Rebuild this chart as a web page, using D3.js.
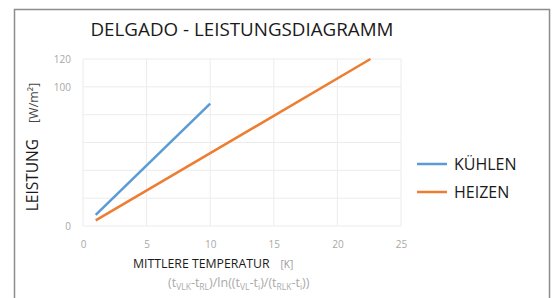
<!DOCTYPE html>
<html>
<head>
<meta charset="utf-8">
<script src="https://cdn.jsdelivr.net/npm/d3@7"></script>
<style>
  body { margin: 0; background: #fff; }
  text { font-family: "Open Sans", "Noto Sans", sans-serif; }
</style>
</head>
<body>
<div id="chart"></div>
<script>
// values
var seriesNames = ["KÜHLEN", "HEIZEN"];
var kuehlenX = [1, 10];
var kuehlenY = [8, 88];
var heizenX = [1, 22.6];
var heizenY = [4, 120];
var xTicks = [0, 5, 10, 15, 20, 25];
var yTicks = [0, 100, 120];
var yGrid = [0, 20, 40, 60, 80, 100, 120];
var colors = ["#5b9bd5", "#ed7d31"];

var width = 558, height = 298;

var svg = d3.select("#chart").append("svg")
    .attr("width", width)
    .attr("height", height);

// outer frame (bottom edge runs off the picture)
svg.append("rect")
    .attr("x", 14.5).attr("y", 9.5)
    .attr("width", 535).attr("height", 300)
    .attr("fill", "none")
    .attr("stroke", "#8c8c8c")
    .attr("stroke-width", 1.5);

var x = d3.scaleLinear().domain([0, 25]).range([83, 401]);
var y = d3.scaleLinear().domain([0, 120]).range([226, 59]);

// grid
var grid = svg.append("g");
grid.selectAll("line.v").data(xTicks).enter().append("line")
    .attr("x1", d => x(d)).attr("x2", d => x(d))
    .attr("y1", y(120)).attr("y2", y(0))
    .attr("stroke", "#ececec");
grid.selectAll("line.h").data(yGrid).enter().append("line")
    .attr("x1", x(0)).attr("x2", x(25))
    .attr("y1", d => y(d)).attr("y2", d => y(d))
    .attr("stroke", "#ececec");

// axes
var bottomAxis = d3.axisBottom(x).tickValues(xTicks).tickSize(0).tickPadding(15);
var leftAxis = d3.axisLeft(y).tickValues(yTicks).tickSize(0).tickPadding(12);

var gx = svg.append("g")
    .attr("transform", "translate(0," + y(0) + ")")
    .call(bottomAxis);
var gy = svg.append("g")
    .attr("transform", "translate(" + x(0) + ",0)")
    .call(leftAxis);
[gx, gy].forEach(function(g) {
  g.select(".domain").remove();
  g.selectAll("text")
    .attr("fill", "#a8a8a8")
    .style("font-size", "10px")
    .style("font-family", "'Open Sans', sans-serif");
});

// lines
var data = [
  kuehlenX.map((v, i) => ({x: v, y: kuehlenY[i]})),
  heizenX.map((v, i) => ({x: v, y: heizenY[i]}))
];
var line = d3.line().x(d => x(d.x)).y(d => y(d.y));
svg.selectAll("path.series").data(data).enter().append("path")
    .attr("class", "series")
    .attr("d", line)
    .attr("fill", "none")
    .attr("stroke", (d, i) => colors[i])
    .attr("stroke-width", 2.5);

// title
svg.append("text")
    .attr("x", 242).attr("y", 36)
    .attr("text-anchor", "middle")
    .attr("fill", "#1a1a1a")
    .style("font-size", "18.8px")
    .text("DELGADO - LEISTUNGSDIAGRAMM");

// y title
var yt = svg.append("text")
    .attr("transform", "translate(38,147) rotate(-90)")
    .attr("text-anchor", "middle")
    .attr("fill", "#1a1a1a");
yt.append("tspan").style("font-size", "15.5px").text("LEISTUNG");
yt.append("tspan").attr("dx", 16).style("font-size", "12.5px").attr("fill", "#444").text("[W/m²]");

// x title
var xt = svg.append("text")
    .attr("x", 133).attr("y", 268)
    .attr("fill", "#1a1a1a");
xt.append("tspan").style("font-size", "12.3px").text("MITTLERE TEMPERATUR");
xt.append("tspan").attr("dx", 11).style("font-size", "10px").attr("fill", "#999").text("[K]");

// formula line
var f = svg.append("text")
    .attr("x", 168).attr("y", 287)
    .attr("fill", "#aaa");
var parts = [["(t", "VLK"], ["-t", "RL"], [")/ln((t", "VL"], ["-t", "i"],
             [")/(t", "RLK"], ["-t", "i"], ["))", ""]];
parts.forEach(function(p) {
  f.append("tspan").attr("y", 287).style("font-size", "12.5px").text(p[0]);
  if (p[1]) {
    f.append("tspan").attr("y", 289.5).style("font-size", "8.5px").text(p[1]);
  }
});

// legend
var legend = svg.selectAll("g.legend").data(seriesNames).enter().append("g")
    .attr("class", "legend")
    .attr("transform", (d, i) => "translate(417," + (164 + i * 28) + ")");
legend.append("line")
    .attr("x1", 0).attr("x2", 30)
    .attr("stroke", (d, i) => colors[i])
    .attr("stroke-width", 2.5);
legend.append("text")
    .attr("x", 37).attr("y", 6)
    .attr("fill", "#1a1a1a")
    .style("font-size", "16px")
    .text(d => d);
</script>
</body>
</html>
